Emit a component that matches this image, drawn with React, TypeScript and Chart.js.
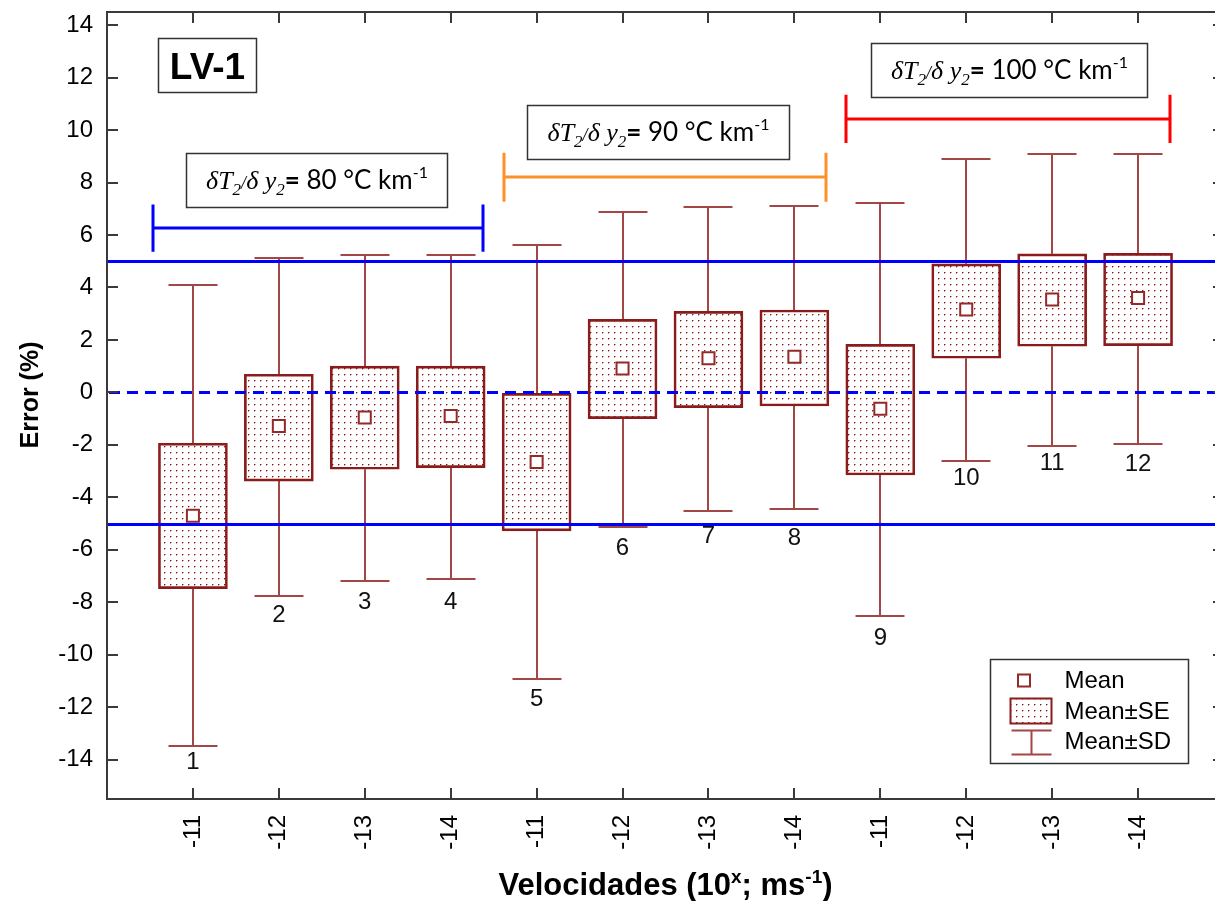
import React, { useEffect, useRef } from 'react';
import { Chart, registerables } from 'chart.js';

Chart.register(...registerables);

// ---- data -------------------------------------------------------------
const velocityLabels = ['-11', '-12', '-13', '-14', '-11', '-12', '-13', '-14', '-11', '-12', '-13', '-14'];
const sampleIds = ['1', '2', '3', '4', '5', '6', '7', '8', '9', '10', '11', '12'];
const meanValues = [-4.7, -1.28, -0.96, -0.9, -2.65, 0.91, 1.3, 1.36, -0.62, 3.16, 3.54, 3.6];
const seLow = [-7.48, -3.38, -2.93, -2.87, -5.28, -1.0, -0.58, -0.52, -3.15, 1.3, 1.76, 1.78];
const seHigh = [-1.94, 0.69, 1.0, 1.0, -0.04, 2.78, 3.09, 3.14, 1.83, 4.9, 5.28, 5.3];
const sdLow = [-13.47, -7.76, -7.2, -7.12, -10.93, -5.13, -4.52, -4.46, -8.53, -2.62, -2.04, -1.98];
const sdHigh = [4.09, 5.12, 5.24, 5.24, 5.61, 6.88, 7.05, 7.12, 7.23, 8.88, 9.08, 9.08];
const yTickValues = [-14, -12, -10, -8, -6, -4, -2, 0, 2, 4, 6, 8, 10, 12, 14];
const limitValues = [-5, 5];
const zeroValue = 0;
const gradientValues = ['80', '90', '100'];
const panelName = 'LV-1';

// ---- layout -----------------------------------------------------------
const Y_MIN = -15.5;
const Y_MAX = 14.5;
const X_MIN = -1;
const X_MAX = 12;

const bracketLayout = [
  { from: -0.47, to: 3.38, y: 6.26, half: 0.9, color: '#0000ff' },
  { from: 3.62, to: 7.37, y: 8.2, half: 0.93, color: '#ff9028' },
  { from: 7.6, to: 11.37, y: 10.43, half: 0.92, color: '#ff0000' },
];
const gradientBoxLayout = [
  { x0: -0.08, x1: 2.96, y0: 9.14, y1: 7.1 },
  { x0: 3.885, x1: 6.93, y0: 10.96, y1: 8.92 },
  { x0: 7.89, x1: 11.1, y0: 13.31, y1: 11.27 },
];
const panelBoxLayout = { x0: -0.406, x1: 0.734, y0: 13.51, y1: 11.47 };
const idLabelGapPx = [6, 9, 10, 12, 9, 11, 15, 18, 11, 6, 7, 9];

const COLORS = {
  box: '#8b1c1c',
  whisker: '#a34646',
  mean: '#952828',
  dot: '#8a1010',
  axis: '#3a3a3a',
  limit: '#0000ff',
};
const SANS = '"Liberation Sans", Arial, sans-serif';
const SERIF = '"Liberation Serif", "Times New Roman", serif';
const LATO = 'Lato, "Noto Sans", sans-serif';

type Run = { text: string; font: string; dy?: number };

function drawRuns(ctx: CanvasRenderingContext2D, runs: Run[], cx: number, baseline: number) {
  let total = 0;
  for (const r of runs) {
    ctx.font = r.font;
    total += ctx.measureText(r.text).width;
  }
  let x = cx - total / 2;
  ctx.textAlign = 'left';
  ctx.textBaseline = 'alphabetic';
  for (const r of runs) {
    ctx.font = r.font;
    ctx.fillText(r.text, x, baseline + (r.dy || 0));
    x += ctx.measureText(r.text).width;
  }
}

function makeDotPattern(ctx: CanvasRenderingContext2D) {
  const c = document.createElement('canvas');
  c.width = 6;
  c.height = 6;
  const g = c.getContext('2d')!;
  g.fillStyle = COLORS.dot;
  g.fillRect(2, 2, 1, 1);
  g.globalAlpha = 0.4;
  g.fillRect(3, 2, 1, 1);
  g.fillRect(2, 3, 1, 1);
  return ctx.createPattern(c, 'repeat');
}

function gradientRuns(value: string): Run[] {
  const it = `italic 26px ${SERIF}`;
  const sub = `italic 17px ${SERIF}`;
  return [
    { text: 'δ', font: it },
    { text: 'T', font: it },
    { text: '2', font: sub, dy: 6 },
    { text: '/', font: `italic 18px ${SERIF}` },
    { text: 'δ', font: it },
    { text: ' y', font: it },
    { text: '2', font: sub, dy: 6 },
    { text: '=', font: `bold 26px ${LATO}` },
    { text: ` ${value} °C km`, font: `26px ${LATO}` },
    { text: '-1', font: `16px ${LATO}`, dy: -11 },
  ];
}

export default function App() {
  const ref = useRef<HTMLCanvasElement>(null);

  useEffect(() => {
    const canvas = ref.current!;
    const ctx0 = canvas.getContext('2d')!;
    const dots = makeDotPattern(ctx0);

    const overlay = {
      id: 'overlay',
      beforeDatasetsDraw(chart: any) {
        const { ctx } = chart;
        const xs = chart.scales.x;
        const ys = chart.scales.y;
        ctx.save();
        ctx.strokeStyle = COLORS.whisker;
        ctx.lineWidth = 2;
        meanValues.forEach((_, i) => {
          const px = Math.round(xs.getPixelForValue(i));
          const capHalf = 24.5;
          const segs: [number, number][] = [
            [seHigh[i], sdHigh[i]],
            [seLow[i], sdLow[i]],
          ];
          for (const [from, to] of segs) {
            const y0 = ys.getPixelForValue(from);
            const y1 = Math.round(ys.getPixelForValue(to));
            ctx.beginPath();
            ctx.moveTo(px, y0);
            ctx.lineTo(px, y1);
            ctx.moveTo(px - capHalf, y1);
            ctx.lineTo(px + capHalf, y1);
            ctx.stroke();
          }
        });
        ctx.restore();
      },
      afterDatasetsDraw(chart: any) {
        const { ctx, chartArea: ca } = chart;
        const xs = chart.scales.x;
        const ys = chart.scales.y;
        const X = (v: number) => xs.getPixelForValue(v);
        const Y = (v: number) => ys.getPixelForValue(v);

        // reference lines: ±5 % limits and the zero line
        ctx.save();
        ctx.beginPath();
        ctx.rect(ca.left, ca.top, ca.right - ca.left, ca.bottom - ca.top);
        ctx.clip();
        ctx.strokeStyle = COLORS.limit;
        ctx.lineWidth = 3;
        for (const v of limitValues) {
          const y = Math.round(Y(v)) + 0.5;
          ctx.beginPath();
          ctx.moveTo(ca.left, y);
          ctx.lineTo(ca.right, y);
          ctx.stroke();
        }
        ctx.setLineDash([11, 7]);
        ctx.beginPath();
        const yz = Math.round(Y(zeroValue)) + 0.5;
        ctx.moveTo(ca.left + 2, yz);
        ctx.lineTo(ca.right, yz);
        ctx.stroke();
        ctx.setLineDash([]);

        // group brackets
        for (const b of bracketLayout) {
          const x0 = Math.round(X(b.from));
          const x1 = Math.round(X(b.to));
          const y = Math.round(Y(b.y));
          const yt = Y(b.y + b.half);
          const yb = Y(b.y - b.half);
          ctx.strokeStyle = b.color;
          ctx.lineWidth = 3;
          ctx.beginPath();
          ctx.moveTo(x0, y);
          ctx.lineTo(x1, y);
          ctx.moveTo(x0, yt);
          ctx.lineTo(x0, yb);
          ctx.moveTo(x1, yt);
          ctx.lineTo(x1, yb);
          ctx.stroke();
        }
        ctx.restore();

        // sample numbers under the lower whiskers
        ctx.save();
        ctx.fillStyle = '#111';
        ctx.font = `24px ${SANS}`;
        ctx.textAlign = 'center';
        ctx.textBaseline = 'alphabetic';
        sampleIds.forEach((id, i) => {
          const top = Y(sdLow[i]) + idLabelGapPx[i];
          ctx.fillText(id, X(i), top + 17.5);
        });
        ctx.restore();

        // frame with inward ticks
        ctx.save();
        ctx.strokeStyle = COLORS.axis;
        ctx.lineWidth = 2;
        ctx.strokeRect(ca.left, ca.top, ca.right - ca.left, ca.bottom - ca.top);
        ctx.beginPath();
        for (const v of yTickValues) {
          const y = Math.round(Y(v));
          ctx.moveTo(ca.left, y);
          ctx.lineTo(ca.left + 11, y);
          ctx.moveTo(ca.right, y);
          ctx.lineTo(ca.right - 11, y);
        }
        velocityLabels.forEach((_, i) => {
          const x = Math.round(X(i));
          ctx.moveTo(x, ca.top);
          ctx.lineTo(x, ca.top + 11);
          ctx.moveTo(x, ca.bottom);
          ctx.lineTo(x, ca.bottom - 11);
        });
        ctx.stroke();
        ctx.restore();

        // boxed captions
        ctx.save();
        ctx.fillStyle = '#000';
        ctx.strokeStyle = '#333';
        ctx.lineWidth = 1.5;
        const box = (l: { x0: number; x1: number; y0: number; y1: number }) => {
          const x = Math.round(X(l.x0)) + 0.5;
          const y = Math.round(Y(l.y0)) + 0.5;
          const w = Math.round(X(l.x1) - X(l.x0));
          const h = Math.round(Y(l.y1) - Y(l.y0));
          ctx.fillStyle = '#fff';
          ctx.fillRect(x, y, w, h);
          ctx.strokeRect(x, y, w, h);
          ctx.fillStyle = '#000';
          return { x, y, w, h };
        };
        const pb = box(panelBoxLayout);
        drawRuns(ctx, [{ text: panelName, font: `bold 37px ${SANS}` }], pb.x + pb.w / 2, pb.y + 40);
        gradientBoxLayout.forEach((l, i) => {
          const r = box(l);
          drawRuns(ctx, gradientRuns(gradientValues[i]), r.x + r.w / 2, r.y + 35);
        });
        ctx.restore();

        // legend
        ctx.save();
        const lw = 198;
        const lh = 104;
        const lx = Math.round(ca.right - 36 - lw) + 0.5;
        const ly = Math.round(ca.bottom - 36 - lh) + 0.5;
        ctx.fillStyle = '#fff';
        ctx.fillRect(lx, ly, lw, lh);
        ctx.strokeStyle = '#333';
        ctx.lineWidth = 1.5;
        ctx.strokeRect(lx, ly, lw, lh);
        // mean marker
        ctx.strokeStyle = COLORS.mean;
        ctx.lineWidth = 2;
        ctx.strokeRect(lx + 27.5, ly + 15, 12, 12);
        // SE box
        ctx.fillStyle = dots as any;
        ctx.fillRect(lx + 20, ly + 39, 41, 25);
        ctx.strokeStyle = COLORS.box;
        ctx.strokeRect(lx + 20, ly + 39, 41, 25);
        // SD whisker
        ctx.strokeStyle = COLORS.whisker;
        ctx.beginPath();
        ctx.moveTo(lx + 21, ly + 71);
        ctx.lineTo(lx + 61, ly + 71);
        ctx.moveTo(lx + 41, ly + 71);
        ctx.lineTo(lx + 41, ly + 95);
        ctx.moveTo(lx + 21, ly + 95);
        ctx.lineTo(lx + 61, ly + 95);
        ctx.stroke();
        ctx.fillStyle = '#000';
        ctx.font = `24px ${SANS}`;
        ctx.textAlign = 'left';
        ctx.textBaseline = 'middle';
        ctx.fillText('Mean', lx + 74, ly + 22);
        ctx.fillText('Mean±SE', lx + 74, ly + 53);
        ctx.fillText('Mean±SD', lx + 74, ly + 83);
        ctx.restore();

        // axis titles
        ctx.save();
        ctx.fillStyle = '#000';
        ctx.translate(31, 395);
        ctx.rotate(-Math.PI / 2);
        ctx.font = `bold 25px ${SANS}`;
        ctx.textAlign = 'center';
        ctx.textBaseline = 'middle';
        ctx.fillText('Error (%)', 0, 0);
        ctx.restore();

        ctx.save();
        ctx.fillStyle = '#000';
        const bf = `bold 31px ${SANS}`;
        const sf = `bold 19px ${SANS}`;
        drawRuns(
          ctx,
          [
            { text: 'Velocidades (10', font: bf },
            { text: 'x', font: sf, dy: -12 },
            { text: '; ms', font: bf },
            { text: '-1', font: sf, dy: -12 },
            { text: ')', font: bf },
          ],
          (ca.left + ca.right) / 2,
          895
        );
        ctx.restore();
      },
    };

    Chart.defaults.font.family = SANS;

    const chart = new Chart(canvas, {
      type: 'bar',
      data: {
        datasets: [
          {
            type: 'scatter',
            label: 'Mean',
            data: meanValues.map((v, i) => ({ x: i, y: v })),
            pointStyle: 'rect',
            pointRadius: 8.5,
            pointBackgroundColor: '#fff',
            pointBorderColor: COLORS.mean,
            pointBorderWidth: 2,
            order: 0,
          } as any,
          {
            type: 'bar',
            label: 'Mean±SE',
            data: seLow.map((lo, i) => ({ x: i, y: [lo, seHigh[i]] })) as any,
            backgroundColor: dots as any,
            borderColor: COLORS.box,
            borderWidth: 2,
            borderSkipped: false,
            barThickness: 69,
            grouped: false,
            order: 1,
          } as any,
        ],
      },
      options: {
        responsive: false,
        animation: false,
        events: [],
        layout: { padding: { top: 12, right: 16, left: 0, bottom: 0 } },
        plugins: { legend: { display: false }, tooltip: { enabled: false } },
        scales: {
          x: {
            type: 'linear',
            offset: false,
            min: X_MIN,
            max: X_MAX,
            grid: { display: false, drawTicks: false, offset: false },
            border: { display: false },
            afterBuildTicks: (s: any) => {
              s.ticks = velocityLabels.map((_, i) => ({ value: i }));
            },
            afterFit: (s: any) => {
              s.height = 102;
              s.paddingLeft = 0;
              s.paddingRight = 0;
            },
            ticks: {
              autoSkip: false,
              minRotation: 90,
              maxRotation: 90,
              padding: 16,
              color: '#000',
              font: { size: 24, family: SANS },
              callback: (v: any) => velocityLabels[v as number] ?? '',
            },
          },
          y: {
            type: 'linear',
            min: Y_MIN,
            max: Y_MAX,
            grid: { display: false, drawTicks: false },
            border: { display: false },
            afterBuildTicks: (s: any) => {
              s.ticks = yTickValues.map((v) => ({ value: v }));
            },
            afterFit: (s: any) => {
              s.width = 107;
              s.paddingTop = 0;
              s.paddingBottom = 0;
            },
            ticks: {
              padding: 14,
              color: '#000',
              font: { size: 24, family: SANS },
              callback: (v: any) => String(v),
            },
          },
        },
      } as any,
      plugins: [overlay],
    });

    return () => chart.destroy();
  }, []);

  return (
    <div
      style={{
        position: 'fixed',
        left: 0,
        top: 0,
        width: 1215,
        height: 901,
        overflow: 'hidden',
        background: '#fff',
      }}
    >
      <canvas ref={ref} width={1240} height={901} style={{ display: 'block' }} />
    </div>
  );
}
